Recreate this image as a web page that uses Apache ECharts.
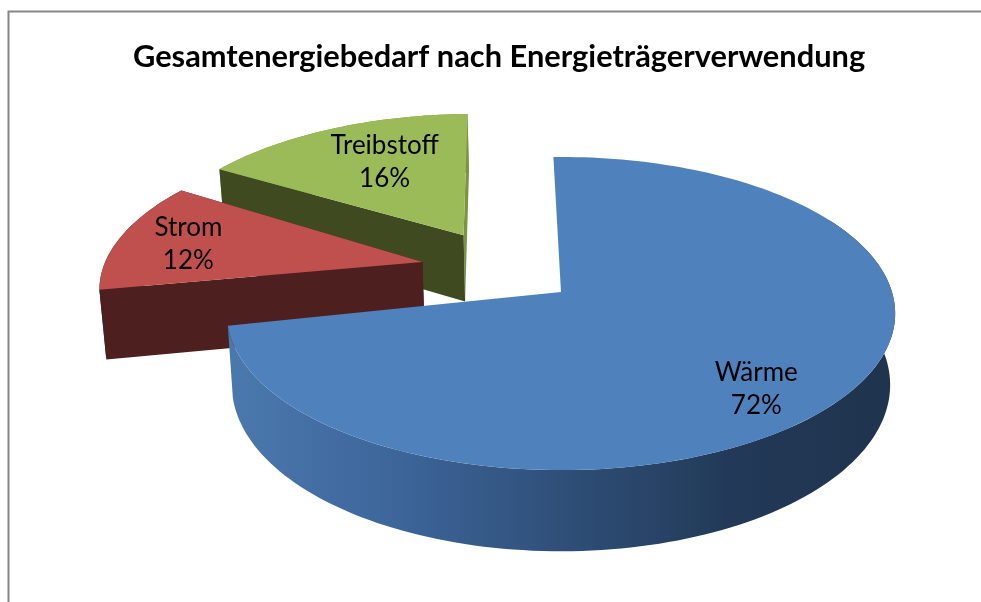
<!DOCTYPE html>
<html><head><meta charset="utf-8">
<style>html,body{margin:0;padding:0;background:#fff}#c{width:981px;height:602px}</style>
<script src="https://cdn.jsdelivr.net/npm/echarts@6/dist/echarts.min.js"></script>
</head><body><div id="c"></div>
<script>
const titleText = 'Gesamtenergiebedarf nach Energieträgerverwendung';
const categories = ['Wärme', 'Strom', 'Treibstoff'];
const values = [72, 12, 16];
const topColors = ['#4f81bd', '#c0504d', '#9bbb59'];
const startWallColors = ['#1f3552', '#4d1f1e', '#404a21'];
const endWallColors = ['#1f3552', '#4d1f1e', '#7a9440'];
const explodeX = [0, -0.43, -0.31];
const explodeY = [0, -0.2, -0.39];
const sliceRadius = [1, 0.985, 0.99];
const sliceTurn = [0, 1.5, 0];
const labelX = [0.543, -1.176, -0.603];
const labelY = [0.58, -0.324, -0.955];

const view = {cx: 561, cy: 292, A: 331, B: 153.6, p: 0.1375, depth: 70, shrink: 0.985, startDeg: -1.5};
const total = values.reduce((a, b) => a + b, 0);

function project(X, Y) {
  const w = 1 - view.p * Y;
  return [view.cx + view.A * X / w, view.cy + view.B * Y / w, w];
}
function lower(X, Y) {
  const q = project(X, Y);
  return [view.cx + (q[0] - view.cx) * view.shrink, q[1] + view.depth / q[2]];
}
function arc(ox, oy, r, a0, a1, fn) {
  const pts = [], n = Math.max(4, Math.ceil(Math.abs(a1 - a0) / 1.5));
  for (let i = 0; i <= n; i++) {
    const t = (a0 + (a1 - a0) * i / n) * Math.PI / 180;
    pts.push(fn(ox + r * Math.sin(t), oy - r * Math.cos(t)));
  }
  return pts;
}
function renderItem(params, api) {
  const i = api.value(1);
  let before = 0;
  for (let k = 0; k < i; k++) before += values[k];
  const a0 = view.startDeg + sliceTurn[i] + before / total * 360;
  const a1 = a0 + api.value(0) / total * 360;
  const ox = explodeX[i], oy = explodeY[i], r = sliceRadius[i];
  const topArc = arc(ox, oy, r, a0, a1, project).map(p => [p[0], p[1]]);
  const lowArc = arc(ox, oy, r, a0, a1, lower);
  const apexT = project(ox, oy), apexB = lower(ox, oy);
  const apex = [apexT[0], apexT[1]];
  const z = 10 * (3 - i);
  const poly = (pts, fill, zz) => ({type: 'polygon', z2: z + zz, shape: {points: pts},
    style: {fill: fill, stroke: null}, silent: true});
  const kids = [];
  if (i === 0) {
    // only the front-facing part of the rim can be seen
    const wallFrom = 60;
    const wallTop = arc(ox, oy, r, wallFrom, a1, project).map(p => [p[0], p[1]]);
    const wallLow = arc(ox, oy, r, wallFrom, a1, lower);
    const sideFill = {type: 'linear', global: true, x: 234, y: 0, x2: 893, y2: 0, colorStops: [
      {offset: 0, color: '#4a78ad'}, {offset: 0.25, color: '#3d659a'}, {offset: 0.5, color: '#2f4f78'},
      {offset: 0.75, color: '#223a58'}, {offset: 1, color: '#1f334d'}]};
    kids.push(poly(wallTop.concat(wallLow.slice().reverse()), sideFill, 2));
  } else {
    kids.push(poly(topArc.concat(lowArc.slice().reverse()), endWallColors[i], 0));
    kids.push(poly([apex, topArc[topArc.length - 1], lowArc[lowArc.length - 1], apexB], endWallColors[i], 0));
    kids.push(poly([apex, topArc[0], lowArc[0], apexB], startWallColors[i], 1));
  }
  kids.push(poly([apex].concat(topArc), topColors[i], 3));
  const lp = project(labelX[i], labelY[i]);
  const pct = Math.round(api.value(0) / total * 100) + '%';
  kids.push({type: 'text', z2: 100, x: lp[0], y: lp[1], style: {
    text: categories[i] + '\n' + pct, fill: '#000', align: 'center', verticalAlign: 'middle',
    font: '26px Lato', lineHeight: 33}});
  return {type: 'group', children: kids};
}

const chart = echarts.init(document.getElementById('c'), null, {renderer: 'canvas'});
chart.setOption({
  animation: false,
  backgroundColor: '#fff',
  title: {text: titleText, left: 128, top: 37,
    textStyle: {fontFamily: 'Lato', fontWeight: 'bold', fontSize: 30.8, color: '#000'}},
  graphic: [{type: 'polyline', silent: true, shape: {points: [[8.5, 602], [8.5, 11.5], [981, 11.5]]},
    style: {stroke: '#868686', lineWidth: 2, fill: null}}],
  series: [{type: 'custom', coordinateSystem: 'none', renderItem: renderItem,
    data: categories.map((c, i) => ({name: c, value: [values[i], i]}))}]
});
</script></body></html>
